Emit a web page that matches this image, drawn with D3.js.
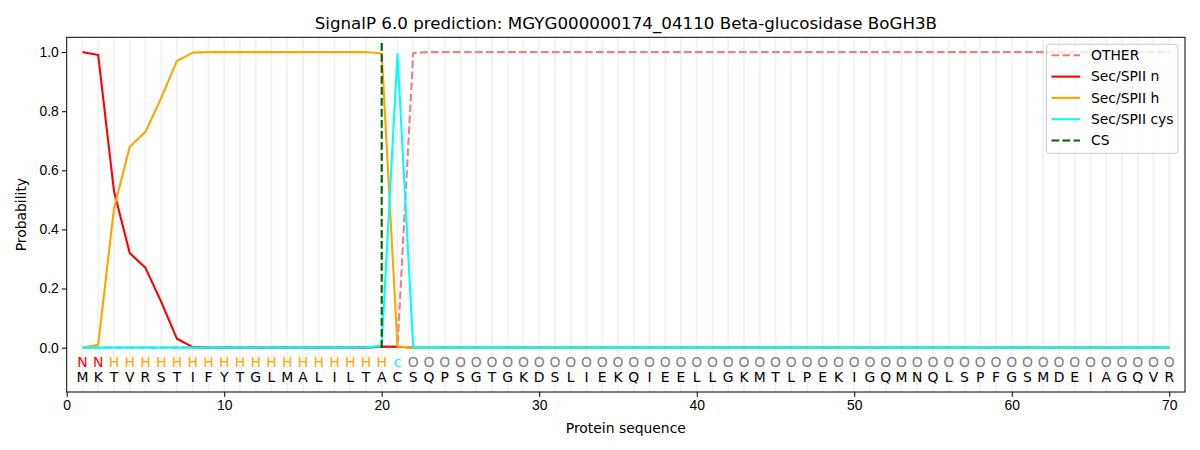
<!DOCTYPE html>
<html>
<head>
<meta charset="utf-8">
<title>SignalP 6.0 prediction</title>
<script src="https://cdn.jsdelivr.net/npm/d3@7"></script>
<style>
    body {
        margin: 0;
        background-color: #fff;
    }

    svg {
        display: block;
        font-family: "DejaVu Sans", sans-serif;
    }

    .grade line {
        stroke: #f2f2f2;
        stroke-width: 1.8px;
    }

    .eixo path,
    .eixo line {
        stroke: #000;
        stroke-width: 1px;
    }

    .eixo text {
        font-size: 13.9px;
        fill: #000;
    }

    .serie {
        fill: none;
        stroke-width: 2.1px;
        stroke-linejoin: round;
    }
</style>
</head>
<body>
<svg width="1200" height="450"></svg>
<script>
    var titulo = "SignalP 6.0 prediction: MGYG000000174_04110 Beta-glucosidase BoGH3B";

    var sequencia = "MKTVRSTIFYTGLMALILTACSQPSGTGKDSLIEKQIEELLGKMTLPEKIGQMNQLSPFGSMDEIAGQVR".split("");
    var rotulos = "NNHHHHHHHHHHHHHHHHHHcOOOOOOOOOOOOOOOOOOOOOOOOOOOOOOOOOOOOOOOOOOOOOOOOO".split("");

    // probabilidades por posicao (1..70)
    var outro = [0, 0, 0, 0, 0, 0, 0, 0, 0, 0, 0, 0, 0, 0, 0, 0, 0, 0, 0, 0.002,
        0.003, 0.997].concat(d3.range(48).map(function () { return 1.0; }));
    var secN = [1.0, 0.99, 0.53, 0.32, 0.27, 0.155, 0.03, 0.002, 0, 0, 0, 0, 0, 0, 0, 0, 0, 0, 0, 0.004,
        0.003, 0].concat(d3.range(48).map(function () { return 0; }));
    var secH = [0, 0.01, 0.47, 0.68, 0.73, 0.845, 0.97, 0.998, 1.0, 1.0, 1.0, 1.0, 1.0, 1.0, 1.0, 1.0, 1.0, 1.0, 1.0, 0.995,
        0.004, 0].concat(d3.range(48).map(function () { return 0; }));
    var secCys = [0, 0, 0, 0, 0, 0, 0, 0, 0, 0, 0, 0, 0, 0, 0, 0, 0, 0, 0.001, 0.006,
        0.993, 0].concat(d3.range(48).map(function () { return 0; }));
    var sitioCorte = 20;
    var sitioCorteTopo = 1.04;

    var xTicks = [0, 10, 20, 30, 40, 50, 60, 70];
    var yTicks = [0, 0.2, 0.4, 0.6, 0.8, 1.0];

    var corRotulo = { N: "#ff0000", H: "#ffa500", c: "#00ffff", O: "#808080" };

    var series = [
        { nome: "OTHER", valores: outro, cor: "#f08080", tracejado: true },
        { nome: "Sec/SPII n", valores: secN, cor: "#ff0000", tracejado: false },
        { nome: "Sec/SPII h", valores: secH, cor: "#ffa500", tracejado: false },
        { nome: "Sec/SPII cys", valores: secCys, cor: "#00ffff", tracejado: false }
    ];

    var svg = d3.select("svg"),
        margem = { top: 37.3, right: 15, bottom: 58, left: 66.7 },
        width = +svg.attr("width") - margem.left - margem.right,
        height = +svg.attr("height") - margem.top - margem.bottom,
        g = svg.append("g").attr("transform", "translate(" + margem.left + "," + margem.top + ")");

    var x = d3.scaleLinear().domain([0, 71]).range([0, width]);
    var y = d3.scaleLinear().domain([-0.15, 1.05]).range([height, 0]);

    var posicoes = d3.range(1, sequencia.length + 1);

    g.append("g")
        .attr("class", "grade")
        .selectAll("line")
        .data(posicoes)
        .enter().append("line")
        .attr("x1", function (d) { return x(d); })
        .attr("x2", function (d) { return x(d); })
        .attr("y1", 0)
        .attr("y2", height);

    var linha = d3.line()
        .x(function (d, i) { return x(i + 1); })
        .y(function (d) { return y(d); });

    g.selectAll(".serie")
        .data(series)
        .enter().append("path")
        .attr("class", "serie")
        .attr("stroke", function (d) { return d.cor; })
        .attr("stroke-dasharray", function (d) { return d.tracejado ? "7.7,3.3" : null; })
        .attr("d", function (d) { return linha(d.valores); });

    g.append("line")
        .attr("class", "serie")
        .attr("stroke", "#006400")
        .attr("stroke-dasharray", "7.7,3.3")
        .attr("x1", x(sitioCorte))
        .attr("x2", x(sitioCorte))
        .attr("y1", y(0))
        .attr("y2", y(sitioCorteTopo));

    // rotulos e residuos
    g.append("g")
        .selectAll("text")
        .data(posicoes)
        .enter().append("text")
        .attr("x", function (d) { return x(d); })
        .attr("y", y(-0.064))
        .attr("text-anchor", "middle")
        .style("font-size", "13.9px")
        .style("fill", function (d) { return corRotulo[rotulos[d - 1]]; })
        .text(function (d) { return rotulos[d - 1]; });

    g.append("g")
        .selectAll("text")
        .data(posicoes)
        .enter().append("text")
        .attr("x", function (d) { return x(d); })
        .attr("y", y(-0.117))
        .attr("text-anchor", "middle")
        .style("font-size", "13.9px")
        .style("fill", "#000")
        .text(function (d) { return sequencia[d - 1]; });

    // eixos
    g.append("g")
        .attr("class", "eixo")
        .attr("transform", "translate(0," + height + ")")
        .call(d3.axisBottom(x).tickValues(xTicks).tickSize(4.9).tickPadding(3).tickFormat(d3.format("d")));

    g.append("g")
        .attr("class", "eixo")
        .call(d3.axisLeft(y).tickValues(yTicks).tickSize(4.9).tickPadding(3).tickFormat(d3.format(".1f")));

    g.selectAll(".eixo .domain").remove();

    g.append("rect")
        .attr("width", width)
        .attr("height", height)
        .attr("fill", "none")
        .attr("stroke", "#000")
        .attr("stroke-width", 1);

    svg.append("text")
        .attr("x", margem.left + width / 2)
        .attr("y", 29)
        .attr("text-anchor", "middle")
        .style("font-size", "16.7px")
        .text(titulo);

    svg.append("text")
        .attr("x", margem.left + width / 2)
        .attr("y", 433)
        .attr("text-anchor", "middle")
        .style("font-size", "13.9px")
        .text("Protein sequence");

    svg.append("text")
        .attr("transform", "translate(26," + (margem.top + height / 2) + ") rotate(-90)")
        .attr("text-anchor", "middle")
        .style("font-size", "13.9px")
        .text("Probability");

    // legenda
    var itensLegenda = series.map(function (s) { return { nome: s.nome, cor: s.cor, tracejado: s.tracejado }; })
        .concat([{ nome: "CS", cor: "#006400", tracejado: true }]);

    var legenda = svg.append("g").attr("transform", "translate(1046.5,44.3)");

    legenda.append("rect")
        .attr("width", 131.5)
        .attr("height", 109)
        .attr("rx", 3)
        .attr("fill", "#fff")
        .attr("fill-opacity", 0.8)
        .attr("stroke", "#cccccc")
        .attr("stroke-width", 1);

    var item = legenda.selectAll(".item")
        .data(itensLegenda)
        .enter().append("g")
        .attr("transform", function (d, i) { return "translate(0," + (11 + i * 21.3) + ")"; });

    item.append("line")
        .attr("x1", 5)
        .attr("x2", 33.5)
        .attr("stroke", function (d) { return d.cor; })
        .attr("stroke-width", 2.1)
        .attr("stroke-dasharray", function (d) { return d.tracejado ? "7.7,3.3" : null; });

    item.append("text")
        .attr("x", 44.5)
        .attr("dy", "0.35em")
        .style("font-size", "13.9px")
        .text(function (d) { return d.nome; });
</script>
</body>
</html>
